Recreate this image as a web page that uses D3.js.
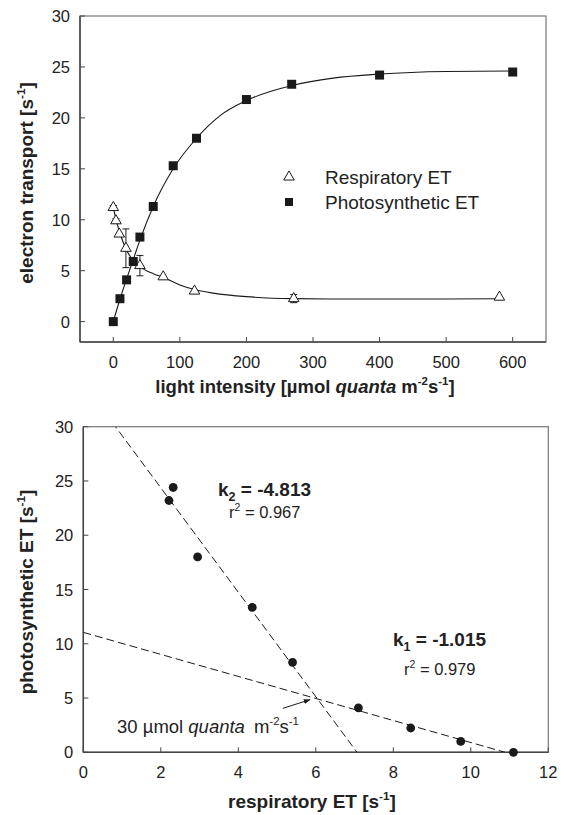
<!DOCTYPE html>
<html>
<head>
<meta charset="utf-8">
<script src="https://cdn.jsdelivr.net/npm/d3@7"></script>
<style>
  body { margin: 0; background: #fff; }
  text { font-family: "Liberation Sans", Arial, sans-serif; fill: #222; }
</style>
</head>
<body>
<svg id="chart" width="564" height="815"></svg>
<script>
// ---- data ----
// top panel: light response
const photoX = [0, 10, 20, 30, 40, 60, 90, 125, 200, 268, 400, 600];
const photoY = [0, 2.25, 4.1, 5.9, 8.3, 11.3, 15.3, 18.0, 21.8, 23.3, 24.2, 24.5];
const respX = [0, 4, 9, 19, 40, 75, 122, 271, 580];
const respY = [11.2, 9.9, 8.6, 7.2, 5.5, 4.4, 3.0, 2.26, 2.4];
const respErr = [0.2, 0.2, 0, 1.9, 1.0, 0, 0, 0.4, 0];
// fitted curves
const photoFitX = [0, 10, 20, 30, 40, 60, 90, 125, 160, 200, 270, 330, 400, 500, 600];
const photoFitY = [0, 2.2, 4.2, 6.1, 8.0, 11.3, 15.0, 18.0, 20.2, 21.7, 23.2, 23.9, 24.3, 24.55, 24.6];
const respFitX = [0, 5, 10, 20, 30, 40, 60, 75, 100, 125, 150, 200, 270, 350, 450, 580];
const respFitY = [11.2, 9.8, 8.7, 7.0, 6.0, 5.4, 4.7, 4.35, 3.6, 3.1, 2.8, 2.45, 2.26, 2.22, 2.22, 2.25];

// bottom panel: photosynthetic vs respiratory ET
const corrX = [2.32, 2.21, 2.95, 4.36, 5.40, 7.10, 8.45, 9.74, 11.1];
const corrY = [24.4, 23.2, 18.0, 13.35, 8.29, 4.1, 2.24, 1.0, 0];
const fitSlope = [-4.813, -1.015];
const fitIntercept = [34.0, 11.05];

const topXTicks = [0, 100, 200, 300, 400, 500, 600];
const topYTicks = [0, 5, 10, 15, 20, 25, 30];
const botXTicks = [0, 2, 4, 6, 8, 10, 12];
const botYTicks = [0, 5, 10, 15, 20, 25, 30];

const svg = d3.select('#chart');
const axisCol = '#444';
const inkCol = '#1a1a1a';

function frame(g, x, y, xt, yt) {
  const [x0, x1] = x.range(), [y0, y1] = y.range();
  g.append('rect').attr('x', x0).attr('y', y1).attr('width', x1 - x0).attr('height', y0 - y1)
    .attr('fill', 'none').attr('stroke', '#777').attr('stroke-width', 1.2);
  g.append('line').attr('x1', x0).attr('x2', x1).attr('y1', y0).attr('y2', y0)
    .attr('stroke', axisCol).attr('stroke-width', 1.5);
  g.append('line').attr('x1', x0).attr('x2', x0).attr('y1', y0).attr('y2', y1)
    .attr('stroke', axisCol).attr('stroke-width', 1.5);
  // ticks point inwards
  g.selectAll('.xt').data(xt).enter().append('line')
    .attr('x1', d => x(d)).attr('x2', d => x(d)).attr('y1', y0).attr('y2', y0 - 5)
    .attr('stroke', axisCol);
  g.selectAll('.yt').data(yt).enter().append('line')
    .attr('x1', x0).attr('x2', x0 + 5).attr('y1', d => y(d)).attr('y2', d => y(d))
    .attr('stroke', axisCol);
  g.selectAll('.xl').data(xt).enter().append('text')
    .attr('x', d => x(d)).attr('y', y0 + 26).attr('text-anchor', 'middle')
    .attr('font-size', 16.5).text(d => d);
  g.selectAll('.yl').data(yt).enter().append('text')
    .attr('x', x0 - 10).attr('y', d => y(d) + 6).attr('text-anchor', 'end')
    .attr('font-size', 16.5).text(d => d);
}

// superscript via baseline-shift so following text returns to baseline
function sup(t, s, base) {
  t.append('tspan').attr('font-size', base * 0.62).attr('baseline-shift', base * 0.42).text(s);
}

// ---------- top panel ----------
const x1 = d3.scaleLinear().domain([-50, 650]).range([80, 546]);
const y1 = d3.scaleLinear().domain([-2, 30]).range([342, 16]);
const g1 = svg.append('g');
frame(g1, x1, y1, topXTicks, topYTicks);

const curve = d3.line().x(d => x1(d[0])).y(d => y1(d[1])).curve(d3.curveMonotoneX);
g1.append('path').attr('d', curve(d3.zip(photoFitX, photoFitY)))
  .attr('fill', 'none').attr('stroke', inkCol).attr('stroke-width', 1.1);
g1.append('path').attr('d', curve(d3.zip(respFitX, respFitY)))
  .attr('fill', 'none').attr('stroke', inkCol).attr('stroke-width', 1.1);

const resp = d3.zip(respX, respY, respErr);
const eb = g1.selectAll('.eb').data(resp.filter(d => d[2] > 0)).enter().append('g');
eb.append('line').attr('x1', d => x1(d[0])).attr('x2', d => x1(d[0]))
  .attr('y1', d => y1(d[1] - d[2])).attr('y2', d => y1(d[1] + d[2])).attr('stroke', inkCol);
[-1, 1].forEach(s => {
  eb.append('line').attr('x1', d => x1(d[0]) - 3.5).attr('x2', d => x1(d[0]) + 3.5)
    .attr('y1', d => y1(d[1] + s * d[2])).attr('y2', d => y1(d[1] + s * d[2])).attr('stroke', inkCol);
});

const tri = d3.symbol().type(d3.symbolTriangle).size(48);
g1.selectAll('.tri').data(resp).enter().append('path')
  .attr('d', tri).attr('transform', d => `translate(${x1(d[0])},${y1(d[1])})`)
  .attr('fill', '#fff').attr('stroke', inkCol).attr('stroke-width', 1);
g1.selectAll('.sq').data(d3.zip(photoX, photoY)).enter().append('rect')
  .attr('x', d => x1(d[0]) - 4.5).attr('y', d => y1(d[1]) - 4.5)
  .attr('width', 9).attr('height', 9).attr('fill', inkCol);

// legend
g1.append('path').attr('d', tri).attr('transform', 'translate(289,177)')
  .attr('fill', '#fff').attr('stroke', inkCol);
g1.append('rect').attr('x', 285).attr('y', 198).attr('width', 8).attr('height', 8).attr('fill', inkCol);
g1.append('text').attr('x', 325).attr('y', 184).attr('font-size', 19).text('Respiratory ET');
g1.append('text').attr('x', 325).attr('y', 209).attr('font-size', 19).text('Photosynthetic ET');

// axis titles
let t = g1.append('text').attr('x', 305).attr('y', 393).attr('text-anchor', 'middle')
  .attr('font-size', 18.5).attr('font-weight', 'bold');
t.append('tspan').text('light intensity [µmol ');
t.append('tspan').attr('font-style', 'italic').text('quanta');
t.append('tspan').text(' m');
sup(t, '-2', 18.5);
t.append('tspan').text('s');
sup(t, '-1', 18.5);
t.append('tspan').text(']');

t = g1.append('text').attr('transform', 'translate(33,183) rotate(-90)').attr('text-anchor', 'middle')
  .attr('font-size', 19).attr('font-weight', 'bold');
t.append('tspan').text('electron transport [s');
sup(t, '-1', 19);
t.append('tspan').text(']');

// ---------- bottom panel ----------
const x2 = d3.scaleLinear().domain([0, 12]).range([83.3, 548.3]);
const y2 = d3.scaleLinear().domain([0, 30]).range([752.3, 426.7]);
const g2 = svg.append('g');
frame(g2, x2, y2, botXTicks, botYTicks);

g2.append('clipPath').attr('id', 'clip2').append('rect')
  .attr('x', 83.3).attr('y', 426.7).attr('width', 465).attr('height', 325.6);
const fits = d3.zip(fitSlope, fitIntercept);
g2.selectAll('.fit').data(fits).enter().append('line')
  .attr('clip-path', 'url(#clip2)')
  .attr('x1', x2(0)).attr('y1', d => y2(d[1]))
  .attr('x2', d => x2(-d[1] / d[0])).attr('y2', y2(0))
  .attr('stroke', inkCol).attr('stroke-width', 1).attr('stroke-dasharray', '8,4');

g2.selectAll('.dot').data(d3.zip(corrX, corrY)).enter().append('circle')
  .attr('cx', d => x2(d[0])).attr('cy', d => y2(d[1])).attr('r', 4.4).attr('fill', inkCol);

// arrow to the intersection
svg.append('defs').append('marker').attr('id', 'ah').attr('viewBox', '0 0 10 10')
  .attr('refX', 9).attr('refY', 5).attr('markerWidth', 7).attr('markerHeight', 7).attr('orient', 'auto')
  .append('path').attr('d', 'M0,1.5 L10,5 L0,8.5 z').attr('fill', inkCol);
g2.append('line').attr('x1', x2(5.15)).attr('y1', y2(4.05)).attr('x2', x2(5.85)).attr('y2', y2(4.85))
  .attr('stroke', inkCol).attr('stroke-width', 1).attr('marker-end', 'url(#ah)');

// annotations
function kLabel(x, y, sub, val) {
  const tt = g2.append('text').attr('x', x).attr('y', y).attr('font-size', 19).attr('font-weight', 'bold');
  tt.append('tspan').text('k');
  tt.append('tspan').attr('font-size', 12.5).attr('dy', 5).text(sub);
  tt.append('tspan').attr('dy', -5).text(' = ' + val);
}
function rLabel(x, y, val) {
  const tt = g2.append('text').attr('x', x).attr('y', y).attr('font-size', 16.5);
  tt.append('tspan').text('r');
  tt.append('tspan').attr('font-size', 10.5).attr('dy', -7).text('2');
  tt.append('tspan').attr('dy', 7).text(' = ' + val);
}
kLabel(218, 496, '2', '-4.813');
rLabel(229, 518, '0.967');
kLabel(393, 646, '1', '-1.015');
rLabel(404, 675, '0.979');

t = g2.append('text').attr('x', 117).attr('y', 733).attr('font-size', 18.5);
t.append('tspan').text('30 µmol ');
t.append('tspan').attr('font-style', 'italic').text('quanta');
t.append('tspan').attr('dx', 9).text('m');
sup(t, '-2', 18.5);
t.append('tspan').text('s');
sup(t, '-1', 18.5);

t = g2.append('text').attr('x', 312).attr('y', 808).attr('text-anchor', 'middle')
  .attr('font-size', 19).attr('font-weight', 'bold');
t.append('tspan').text('respiratory ET [s');
sup(t, '-1', 19);
t.append('tspan').text(']');

t = g2.append('text').attr('transform', 'translate(33,592) rotate(-90)').attr('text-anchor', 'middle')
  .attr('font-size', 19).attr('font-weight', 'bold');
t.append('tspan').text('photosynthetic ET [s');
sup(t, '-1', 19);
t.append('tspan').text(']');
</script>
</body>
</html>
